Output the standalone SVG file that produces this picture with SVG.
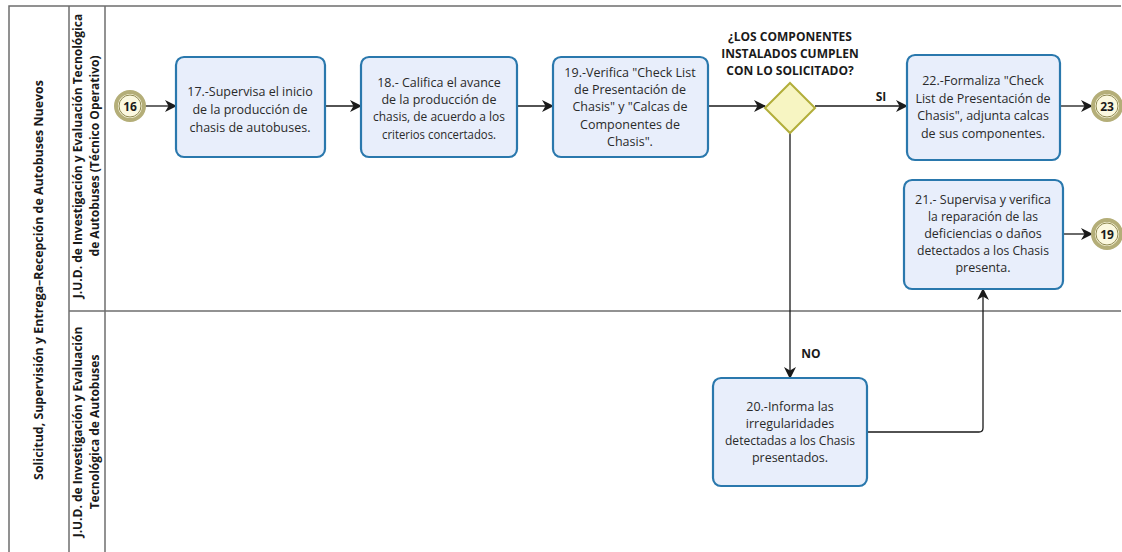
<svg xmlns="http://www.w3.org/2000/svg" width="1122" height="552" viewBox="0 0 1122 552">
  <style>
    .lane { fill: none; stroke: #6e6e6e; stroke-width: 1.5; }
    .lbl { font-family: "Open Sans", "Noto Sans", "DejaVu Sans", sans-serif; font-weight: bold; font-size: 12px; fill: #1a1a1a; text-anchor: middle; }
    .pool { font-size: 12.4px; }
    .task rect { fill: #e8eefb; stroke: #2a78ad; stroke-width: 2.2; }
    .task text { font-family: "Open Sans", "Noto Sans", "DejaVu Sans", sans-serif; font-size: 12.5px; fill: #2a2a2a; text-anchor: middle; }
    .gw polygon { fill: #f7f5c2; stroke: #b2ae3a; stroke-width: 2; }
    .q { font-family: "Open Sans", "Noto Sans", "DejaVu Sans", sans-serif; font-weight: bold; font-size: 12px; fill: #1a1a1a; text-anchor: middle; }
    .ev .o { fill: #fbf8df; stroke: #b4ae78; stroke-width: 4; }
    .ev .i { fill: none; stroke: #8e8850; stroke-width: 1; }
    .ev text { font-family: "Open Sans", "Noto Sans", "DejaVu Sans", sans-serif; font-weight: bold; font-size: 12px; fill: #1a1a1a; text-anchor: middle; }
    .conn path { fill: none; stroke: #1a1a1a; stroke-width: 1.3; }
  </style>
  <defs>
    <marker id="arr" viewBox="0 0 12 12" refX="11" refY="6" markerWidth="12" markerHeight="12" markerUnits="userSpaceOnUse" orient="auto">
      <path d="M0,0 L12,6 L0,12 L3.5,6 z" fill="#1a1a1a"/>
    </marker>
  </defs>

  <rect width="1122" height="552" fill="#ffffff"/>

  <!-- pool and lanes -->
  <g id="pool">
    <path class="lane" d="M1121,6 H9 V552"/>
    <path class="lane" d="M69,6 V552"/>
    <path class="lane" d="M105,6 V552"/>
    <path class="lane" d="M69,311 H1121"/>
    <text class="lbl pool" transform="translate(43,280) rotate(-90)">Solicitud, Supervisión y Entrega–Recepción de Autobuses Nuevos</text>
  </g>
  <g id="lane-tecnico">
    <text class="lbl" transform="translate(82,156) rotate(-90)">J.U.D. de Investigación y Evaluación Tecnológica</text>
    <text class="lbl" transform="translate(99,156) rotate(-90)">de Autobuses (Técnico Operativo)</text>
  </g>
  <g id="lane-jud">
    <text class="lbl" transform="translate(82,432) rotate(-90)">J.U.D. de Investigación y Evaluación</text>
    <text class="lbl" transform="translate(99,432) rotate(-90)">Tecnológica de Autobuses</text>
  </g>

  <!-- connectors -->
  <g id="connectors" class="conn">
    <path d="M145,106 H176" marker-end="url(#arr)"/>
    <path d="M325,106 H361" marker-end="url(#arr)"/>
    <path d="M517,106 H553" marker-end="url(#arr)"/>
    <path d="M708,106 H765" marker-end="url(#arr)"/>
    <path d="M815,106 H907" marker-end="url(#arr)"/>
    <path d="M790,131 V378" marker-end="url(#arr)"/>
    <path d="M867,432 H979 Q983,432 983,428 V289" marker-end="url(#arr)"/>
    <path d="M1063,234 H1092" marker-end="url(#arr)"/>
    <path d="M1060,106 H1092" marker-end="url(#arr)"/>
    <text class="q" x="881" y="101">SI</text>
    <text class="q" x="811" y="358">NO</text>
  </g>

  <!-- events -->
  <g id="ev16" class="ev">
    <circle class="o" cx="130" cy="106" r="14"/>
    <circle class="i" cx="130" cy="106" r="11"/>
    <text x="130" y="110.5">16</text>
  </g>
  <g id="ev23" class="ev">
    <circle class="o" cx="1107" cy="106" r="14"/>
    <circle class="i" cx="1107" cy="106" r="11"/>
    <text x="1107" y="110.5">23</text>
  </g>
  <g id="ev19" class="ev">
    <circle class="o" cx="1107" cy="234" r="14"/>
    <circle class="i" cx="1107" cy="234" r="11"/>
    <text x="1107" y="238.5">19</text>
  </g>

  <!-- tasks -->
  <g id="t17" class="task">
    <rect x="176" y="57" width="149" height="100" rx="8"/>
    <text x="250" y="96">17.-Supervisa el inicio</text>
    <text x="250" y="114">de la producción de</text>
    <text x="250" y="132">chasis de autobuses.</text>
  </g>
  <g id="t18" class="task">
    <rect x="361" y="57" width="156" height="100" rx="8"/>
    <text x="439" y="87">18.- Califica el avance</text>
    <text x="439" y="104">de la producción de</text>
    <text x="439" y="121" textLength="132" lengthAdjust="spacingAndGlyphs">chasis, de acuerdo a los</text>
    <text x="439" y="139" textLength="114" lengthAdjust="spacingAndGlyphs">criterios concertados.</text>
  </g>
  <g id="t19" class="task">
    <rect x="553" y="57" width="155" height="100" rx="8"/>
    <text x="630" y="77">19.-Verifica "Check List</text>
    <text x="630" y="94">de Presentación de</text>
    <text x="630" y="111">Chasis" y "Calcas de</text>
    <text x="630" y="129">Componentes de</text>
    <text x="630" y="146">Chasis".</text>
  </g>
  <g id="t22" class="task">
    <rect x="907" y="55" width="153" height="105" rx="8"/>
    <text x="983" y="85">22.-Formaliza "Check</text>
    <text x="983" y="103">List de Presentación de</text>
    <text x="983" y="120">Chasis", adjunta calcas</text>
    <text x="983" y="138">de sus componentes.</text>
  </g>
  <g id="t21" class="task">
    <rect x="904" y="180" width="159" height="109" rx="8"/>
    <text x="983" y="204">21.- Supervisa y verifica</text>
    <text x="983" y="221" textLength="110" lengthAdjust="spacingAndGlyphs">la reparación de las</text>
    <text x="983" y="238">deficiencias o daños</text>
    <text x="983" y="255" textLength="132" lengthAdjust="spacingAndGlyphs">detectados a los Chasis</text>
    <text x="983" y="272">presenta.</text>
  </g>
  <g id="t20" class="task">
    <rect x="713" y="378" width="154" height="108" rx="8"/>
    <text x="790" y="411">20.-Informa las</text>
    <text x="790" y="428">irregularidades</text>
    <text x="790" y="445" textLength="130" lengthAdjust="spacingAndGlyphs">detectadas a los Chasis</text>
    <text x="790" y="462">presentados.</text>
  </g>

  <!-- gateway -->
  <g id="gw" class="gw">
    <polygon points="790,83 815,108 790,133 765,108"/>
    <text class="q" x="790" y="41">¿LOS COMPONENTES</text>
    <text class="q" x="790" y="58">INSTALADOS CUMPLEN</text>
    <text class="q" x="790" y="75">CON LO SOLICITADO?</text>
  </g>
</svg>
